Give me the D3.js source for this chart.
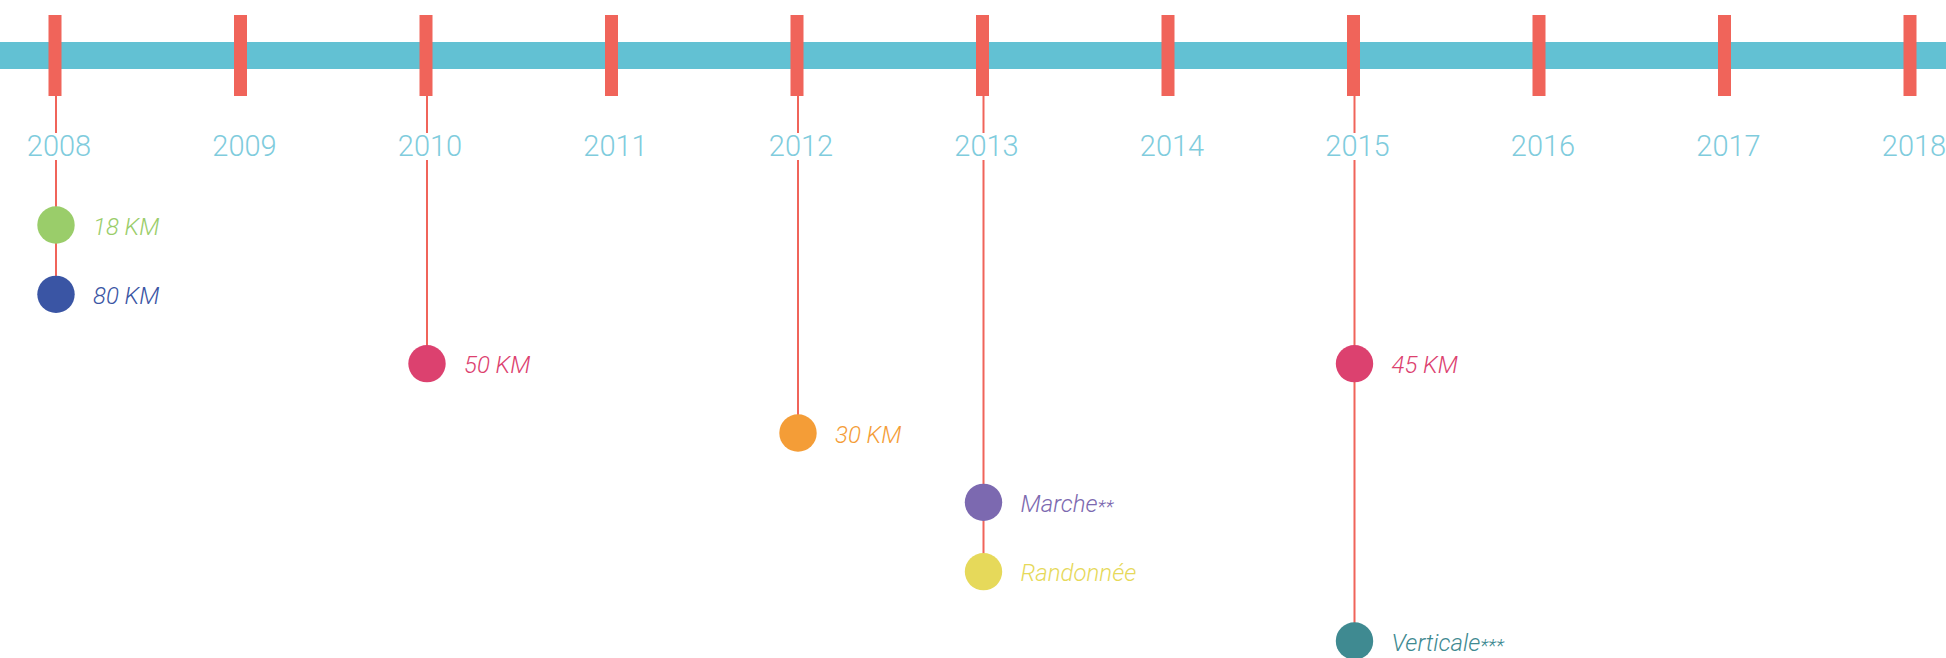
<!DOCTYPE html>
<html>
<head>
<meta charset="utf-8">
<script src="https://cdn.jsdelivr.net/npm/d3@7"></script>
<style>
  html, body { margin: 0; padding: 0; background: #fff; }
  svg { display: block; }
  .year { font-family: Roboto, sans-serif; font-weight: 300; }
  .ev { font-family: Roboto, sans-serif; font-weight: 300; font-style: italic; }
</style>
</head>
<body>
<div class="timeline"></div>
<script>
  // years on the axis
  var years = [2008, 2009, 2010, 2011, 2012, 2013, 2014, 2015, 2016, 2017, 2018];

  // events: year, row (1 = first row under the axis), label
  var evYears = [2008, 2008, 2010, 2012, 2013, 2013, 2015, 2015];
  var evRows = [1, 2, 3, 4, 5, 6, 3, 7];
  var evLabels = ["18 KM", "80 KM", "50 KM", "30 KM", "Marche**", "Randonnée", "45 KM", "Verticale***"];
  var evColors = ["#9ACD6A", "#3A55A4", "#DC416F", "#F49D37", "#7C69B0", "#E6D95A", "#DC416F", "#3F8A91"];

  var W = 1946, H = 658;

  var svg = d3.select(".timeline").append("svg")
    .attr("width", W)
    .attr("height", H);

  var x = d3.scaleLinear().domain([2008, 2018]).range([55, 1910]);
  var y = d3.scaleLinear().domain([1, 7]).range([225, 641]);

  var events = evYears.map(function (yr, i) {
    return {year: yr, row: evRows[i], label: evLabels[i], color: evColors[i]};
  });

  // main band
  svg.append("rect")
    .attr("x", 0)
    .attr("y", 42)
    .attr("width", W)
    .attr("height", 27)
    .style("fill", "#62C1D3");

  // stems, one per year that has events, broken around the year label
  var stems = d3.rollups(events, function (v) { return d3.max(v, function (d) { return d.row; }); }, function (d) { return d.year; });

  var stem = svg.append("g").selectAll(".stem")
    .data(stems)
    .enter().append("g")
    .attr("class", "stem");

  stem.append("line")
    .attr("x1", function (d) { return x(d[0]) + 1; })
    .attr("x2", function (d) { return x(d[0]) + 1; })
    .attr("y1", 90)
    .attr("y2", 133)
    .style("stroke", "#F0645A")
    .style("stroke-width", 2);

  stem.append("line")
    .attr("x1", function (d) { return x(d[0]) + 1; })
    .attr("x2", function (d) { return x(d[0]) + 1; })
    .attr("y1", 160)
    .attr("y2", function (d) { return y(d[1]); })
    .style("stroke", "#F0645A")
    .style("stroke-width", 2);

  // ticks
  svg.append("g").selectAll(".tick")
    .data(years)
    .enter().append("rect")
    .attr("class", "tick")
    .attr("x", function (d) { return x(d) - 6.5; })
    .attr("y", 15)
    .attr("width", 13)
    .attr("height", 81)
    .style("fill", "#F0645A");

  // year labels
  svg.append("g").selectAll(".year")
    .data(years)
    .enter().append("text")
    .attr("class", "year")
    .attr("x", function (d) { return x(d) + 4; })
    .attr("y", 156)
    .attr("text-anchor", "middle")
    .style("font-size", "29px")
    .style("fill", "#7FCCDD")
    .text(function (d) { return d; });

  // event dots
  var ev = svg.append("g").selectAll(".event")
    .data(events)
    .enter().append("g")
    .attr("class", "event")
    .attr("transform", function (d) {
      return "translate(" + (x(d.year) + 1) + "," + y(d.row) + ")";
    });

  ev.append("circle")
    .attr("r", 18.7)
    .style("fill", function (d) { return d.color; });

  var lbl = ev.append("text")
    .attr("class", "ev")
    .attr("x", 37)
    .attr("y", 9.5)
    .style("font-size", "24px")
    .style("fill", function (d) { return d.color; });

  // trailing asterisks are set smaller and lower, as in the original
  lbl.append("tspan")
    .text(function (d) { return d.label.replace(/\*+$/, ""); });
  lbl.append("tspan")
    .style("font-size", "19px")
    .attr("dy", 1)
    .text(function (d) { var m = d.label.match(/\*+$/); return m ? m[0] : ""; });
</script>
</body>
</html>
